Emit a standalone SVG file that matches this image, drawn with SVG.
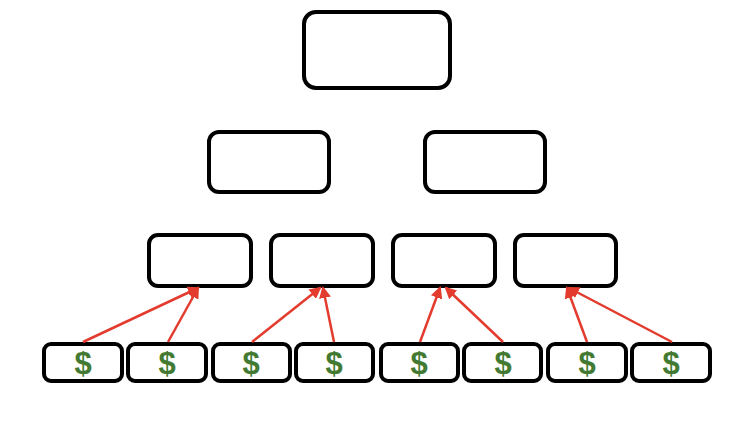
<svg xmlns="http://www.w3.org/2000/svg" width="750" height="422" viewBox="0 0 750 422">
<style>
.box{fill:#fff;stroke:#000;stroke-width:4}
.edge{stroke:#e33b2e;stroke-width:2.5;fill:none}
.cur{font-family:"Liberation Sans",Arial,sans-serif;font-weight:bold;font-size:31px;fill:#437a32;text-anchor:middle}
</style>
<defs>
<marker id="ah" markerWidth="12" markerHeight="12" refX="10" refY="6" orient="auto" markerUnits="userSpaceOnUse" viewBox="0 0 12 12">
<path d="M0,0 L12,6 L0,12 z" fill="#e33b2e"/>
</marker>
</defs>
<rect width="750" height="422" fill="#fff"/>
<g id="root"><rect class="box" x="304" y="12" width="146" height="76" rx="12"/></g>
<g id="mid1"><rect class="box" x="209" y="132" width="120" height="60" rx="10"/></g>
<g id="mid2"><rect class="box" x="425" y="132" width="120" height="60" rx="10"/></g>
<g id="l3a"><rect class="box" x="149" y="235" width="102" height="51" rx="9"/></g>
<g id="l3b"><rect class="box" x="271" y="235" width="102" height="51" rx="9"/></g>
<g id="l3c"><rect class="box" x="393" y="235" width="102" height="51" rx="9"/></g>
<g id="l3d"><rect class="box" x="515" y="235" width="101" height="51" rx="9"/></g>
<g id="c1"><rect class="box" x="44" y="344" width="78" height="37" rx="7"/><text class="cur" x="83" y="374">$</text></g>
<g id="c2"><rect class="box" x="128" y="344" width="78" height="37" rx="7"/><text class="cur" x="167" y="374">$</text></g>
<g id="c3"><rect class="box" x="213" y="344" width="77" height="37" rx="7"/><text class="cur" x="251" y="374">$</text></g>
<g id="c4"><rect class="box" x="296" y="344" width="77" height="37" rx="7"/><text class="cur" x="334" y="374">$</text></g>
<g id="c5"><rect class="box" x="381" y="344" width="77" height="37" rx="7"/><text class="cur" x="419" y="374">$</text></g>
<g id="c6"><rect class="box" x="464" y="344" width="77" height="37" rx="7"/><text class="cur" x="503" y="374">$</text></g>
<g id="c7"><rect class="box" x="548" y="344" width="78" height="37" rx="7"/><text class="cur" x="587" y="374">$</text></g>
<g id="c8"><rect class="box" x="632" y="344" width="78" height="37" rx="7"/><text class="cur" x="671" y="374">$</text></g>
<g id="connectors">
<line class="edge" x1="83" y1="342" x2="198" y2="288" marker-end="url(#ah)"/>
<line class="edge" x1="168" y1="342" x2="198" y2="288" marker-end="url(#ah)"/>
<line class="edge" x1="252" y1="342" x2="320" y2="288" marker-end="url(#ah)"/>
<line class="edge" x1="334" y1="342" x2="323" y2="288" marker-end="url(#ah)"/>
<line class="edge" x1="420" y1="342" x2="440" y2="288" marker-end="url(#ah)"/>
<line class="edge" x1="503" y1="342" x2="446" y2="288" marker-end="url(#ah)"/>
<line class="edge" x1="587" y1="342" x2="567" y2="288" marker-end="url(#ah)"/>
<line class="edge" x1="672" y1="342" x2="569" y2="288" marker-end="url(#ah)"/>
</g>
</svg>
